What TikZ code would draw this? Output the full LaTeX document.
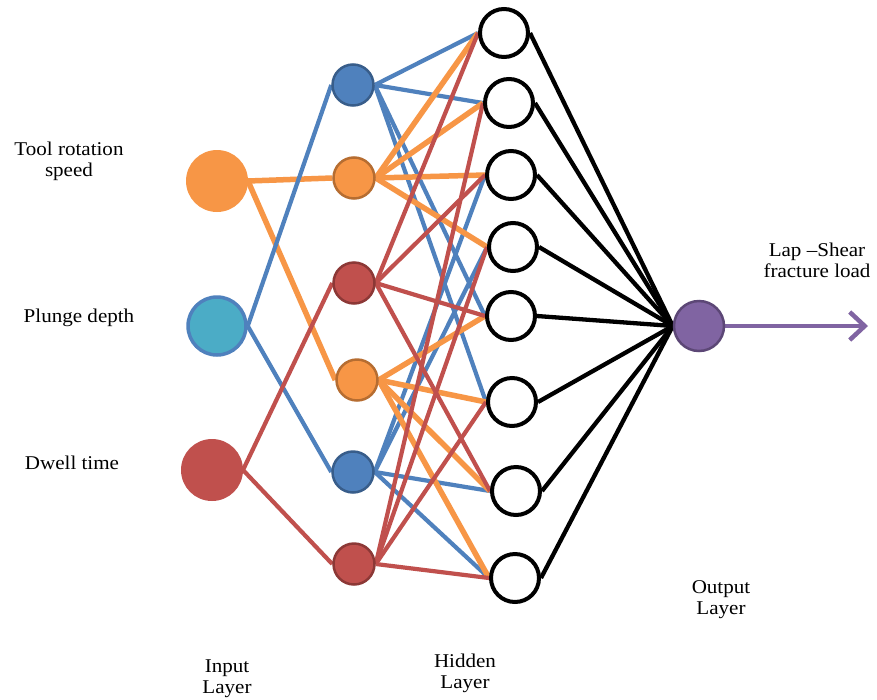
\documentclass[tikz,border=0pt]{standalone}
\usepackage{fontspec}
\setmainfont{Liberation Serif}[FakeStretch=1.08]
\usetikzlibrary{arrows.meta,backgrounds}
\definecolor{cOr}{HTML}{F79646}
\definecolor{cOrD}{HTML}{B66D31}
\definecolor{cBl}{HTML}{4F81BD}
\definecolor{cBlD}{HTML}{385D8A}
\definecolor{cCy}{HTML}{4BACC6}
\definecolor{cRe}{HTML}{C0504D}
\definecolor{cReD}{HTML}{8C3836}
\definecolor{cPu}{HTML}{8064A2}
\definecolor{cPuD}{HTML}{5C4776}
\tikzset{
  inp/.style={circle, minimum size=60pt, inner sep=0pt, line width=2pt},
  hid/.style={circle, minimum size=41pt, inner sep=0pt, line width=2.5pt},
  wht/.style={circle, minimum size=48pt, inner sep=0pt, line width=4pt, draw=black, fill=white},
  outn/.style={circle, minimum size=50pt, inner sep=0pt, line width=2.5pt, draw=cPuD, fill=cPu},
  eb/.style={draw=cBl, line width=4.2pt},
  eo/.style={draw=cOr, line width=5.5pt},
  er/.style={draw=cRe, line width=4.2pt},
  ek/.style={draw=black, line width=4.3pt},
  lbl/.style={align=center, font=\fontsize{19.5}{21}\selectfont, inner sep=0pt}
}
\begin{document}
\begin{tikzpicture}[x=1pt,y=-1pt]
\useasboundingbox (0,0) rectangle (877,699);
% input layer
\node[inp, fill=cOr, draw=cOr] (i1) at (217,181) {};
\node[inp, fill=cCy, draw=cBl, line width=3.5pt, minimum size=58pt] (i2) at (217,326) {};
\node[inp, fill=cRe, draw=cRe] (i3) at (212,470) {};
% first hidden layer
\node[hid, fill=cBl, draw=cBlD] (h1) at (353,85) {};
\node[hid, fill=cOr, draw=cOrD] (h2) at (354,178) {};
\node[hid, fill=cRe, draw=cReD] (h3) at (354,283) {};
\node[hid, fill=cOr, draw=cOrD] (h4) at (357,380) {};
\node[hid, fill=cBl, draw=cBlD] (h5) at (353,472) {};
\node[hid, fill=cRe, draw=cReD] (h6) at (354,564) {};
% second hidden layer
\node[wht] (w1) at (504,33) {};
\node[wht] (w2) at (509,103) {};
\node[wht] (w3) at (511,175) {};
\node[wht] (w4) at (513,247) {};
\node[wht] (w5) at (511,316) {};
\node[wht] (w6) at (512,402) {};
\node[wht] (w7) at (516,491) {};
\node[wht] (w8) at (515,578) {};
% output
\node[outn] (o) at (699,326) {};
\coordinate (aend) at (868,326);
% labels
\node[lbl] (t1) at (69,161) {Tool rotation\\speed};
\node[lbl] (t2) at (79,318) {Plunge depth};
\node[lbl] (t3) at (72,463) {Dwell time};
\node[lbl] (t4) at (817,260) {Lap –Shear\\fracture load};
\node[lbl] (t5) at (721,600) {Output\\Layer};
\node[lbl] (t6) at (227,679) {Input\\Layer};
\node[lbl] (t7) at (465,673) {Hidden\\Layer};
% connectors
\begin{scope}[on background layer]
\fill[white] (0,0) rectangle (877,699);
\foreach \a/\b in {i1/h2,i1/h4} \draw[eo] (\a.east) -- (\b.west);
\foreach \a/\b in {i2/h1,i2/h5} \draw[eb] (\a.east) -- (\b.west);
\foreach \a/\b in {i3/h3,i3/h6} \draw[er] (\a.east) -- (\b.west);
\foreach \w in {w1,w2,w3,w4,w5,w6,w7,w8} \draw[ek] (\w.east) -- (o.west);
\foreach \w in {w1,w2,w5,w6} \draw[eb] (h1.east) -- (\w.west);
\foreach \w in {w3,w4,w7,w8} \draw[eb] (h5.east) -- (\w.west);
\foreach \w in {w1,w2,w3,w4} \draw[eo] (h2.east) -- (\w.west);
\foreach \w in {w5,w6,w7,w8} \draw[eo] (h4.east) -- (\w.west);
\foreach \w in {w1,w3,w5,w7} \draw[er] (h3.east) -- (\w.west);
\foreach \w in {w2,w4,w6,w8} \draw[er] (h6.east) -- (\w.west);
\draw[draw=cPu, line width=4.5pt, -{Straight Barb[length=15pt,width=28pt,line width=4.5pt]}] (o.east) -- (aend);
\end{scope}
\end{tikzpicture}
\end{document}
